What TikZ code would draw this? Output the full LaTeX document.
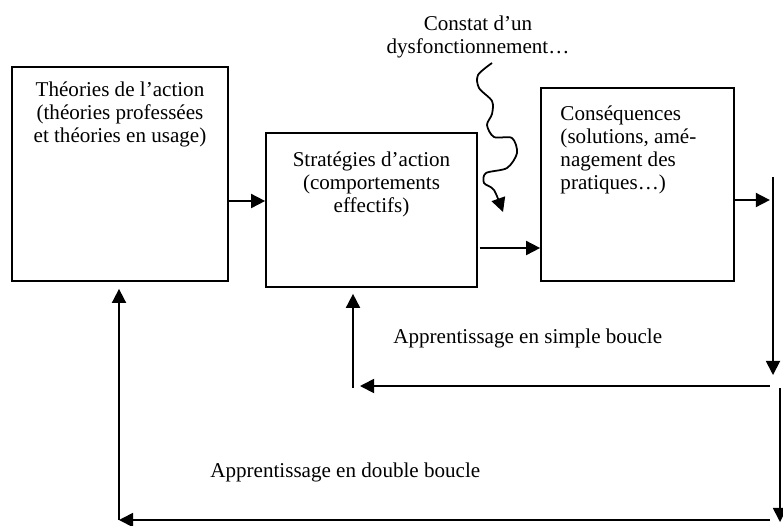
\documentclass[tikz,border=0pt]{standalone}
\usepackage{fontspec}
\setmainfont{Liberation Serif}
\usetikzlibrary{arrows.meta,positioning}

\tikzset{
  box/.style={draw, rectangle, line width=1pt, inner sep=0pt},
  txt/.style={inner sep=0pt, font=\fontsize{12pt}{13.1pt}\selectfont},
  flow/.style={line width=1pt, -{Triangle[length=8pt,width=8pt]}}
}

\begin{document}
\begin{tikzpicture}[x=0.02cm, y=-0.02cm]
\useasboundingbox (0,0) rectangle (783,525);

\node[box, minimum width=4.32cm, minimum height=4.28cm] (theo) at (120,174) {};
\node[box, minimum width=4.22cm, minimum height=3.08cm] (strat) at (371.5,210) {};
\node[box, minimum width=3.86cm, minimum height=3.86cm] (cons) at (637.5,184.5) {};

\node[txt, align=center, below=0.3cm of theo.north] (theotxt) {Théories de l’action\\(théories professées\\et théories en usage)};
\node[txt, align=center, below=0.38cm of strat.north] (strattxt) {Stratégies d’action\\(comportements\\effectifs)};
\node[txt, align=left, below right=0.36cm and 0.4cm of cons.north west] (constxt) {Conséquences\\(solutions, amé-\\nagement des\\pratiques…)};

\node[txt, align=center, anchor=north] (constat) at (478,15.5) {Constat d’un\\dysfonctionnement…};
\node[txt, anchor=base west] (simple) at (393,343) {Apprentissage en simple boucle};
\node[txt, anchor=base west] (double) at (210,477) {Apprentissage en double boucle};

\coordinate (r1) at (773,177);
\coordinate (r2) at (773,375);
\coordinate (s1) at (770,386);
\coordinate (s2) at (360,386);
\coordinate (s3) at (353,388);
\coordinate (r3) at (780,388);
\coordinate (r4) at (780,522);
\coordinate (d1) at (770,520);
\coordinate (d2) at (119,520);

% main chain
\draw[flow] (theo.east |- 0,201) -- (strat.west |- 0,201);
\draw[flow] ([xshift=1pt]strat.east |- 0,248) -- (cons.west |- 0,248);
\draw[flow] (cons.east |- 0,200) -- ++(35,0);
\draw[flow] plot[smooth] coordinates {(492,63) (478,75) (479,88) (492,101) (492,114) (487,125) (494,137) (512,138) (517,153) (507,168) (486,173) (484,183) (494,190) (503,212)};

% simple loop
\draw[flow] (r1) -- (r2);
\draw[flow] (s1) -- (s2);
\draw[flow, shorten >=3.4pt] (s3) -- (s3 |- strat.south);

% double loop
\draw[flow] (r3) -- (r4);
\draw[flow] (d1) -- (d2);
\draw[flow, shorten >=4pt] (d2) -- (d2 |- theo.south);
\end{tikzpicture}
\end{document}
